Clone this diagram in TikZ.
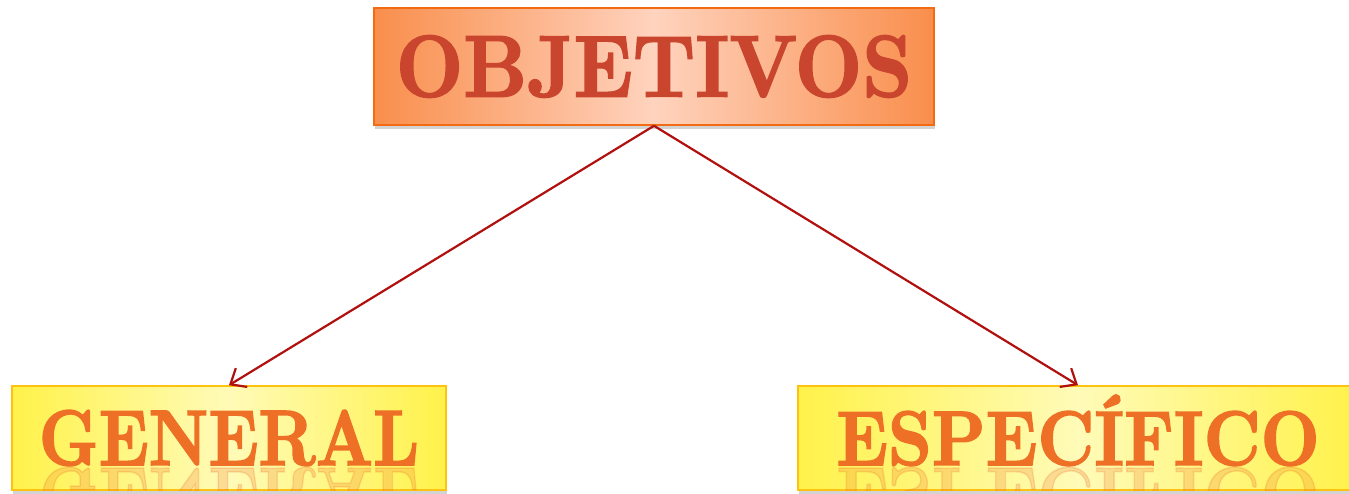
\documentclass[tikz,border=0pt]{standalone}
\usepackage{fontspec}
\usepackage{graphicx}
\usepackage{tikz}
\usetikzlibrary{shadows,arrows.meta}
\newfontfamily\headfont{lmroman10-bold.otf}[FakeBold=2]
\definecolor{peach}{HTML}{FFD3BE}
\definecolor{tangerine}{HTML}{F98E4C}
\definecolor{rust}{HTML}{F26A12}
\definecolor{brick}{HTML}{C9452E}
\definecolor{lemon}{HTML}{FFF24A}
\definecolor{cream}{HTML}{FFFBB8}
\definecolor{gold}{HTML}{FFC20E}
\definecolor{carrot}{HTML}{EE7027}
\definecolor{wine}{HTML}{B0100E}
\tikzset{
	titlebox/.style={draw=rust, line width=1.6pt, left color=tangerine, right color=tangerine, middle color=peach,
		inner sep=0pt, minimum width=560pt, minimum height=117pt, text=brick, text height=60pt, text depth=0pt,
		drop shadow={shadow xshift=1pt, shadow yshift=-4pt, opacity=.35}},
	leafbox/.style={draw=gold, line width=1.6pt, left color=lemon, right color=lemon, middle color=cream,
		inner sep=0pt, minimum height=104pt, text=carrot, text height=54pt, text depth=0pt,
		drop shadow={shadow xshift=1pt, shadow yshift=-4pt, opacity=.35}},
	mirror/.style={text=carrot, opacity=.22, inner sep=0pt, anchor=north},
	link/.style={draw=wine, line width=2.2pt, -{Straight Barb[length=13pt, width=22pt]}}
}
\begin{document}
\begin{tikzpicture}[x=1pt, y=-1pt]
				\useasboundingbox (0,0) rectangle (1349,493);
				% boxes
				\node[titlebox] (obj) at (654,66.5) {\scalebox{.893}[1]{\fontsize{87.5pt}{90pt}\headfont OBJETIVOS}};
				\node[leafbox, minimum width=434pt] (gen) at (229,438) {\scalebox{.842}[1]{\fontsize{78.7pt}{80pt}\headfont GENERAL}};
				\node[leafbox, minimum width=560pt] (esp) at (1078,438) {\scalebox{.886}[1]{\fontsize{77.3pt}{80pt}\headfont ESPECÍFICO}};
				% reflections
				\begin{scope}
					\clip (gen.south west) rectangle (gen.north east);
					\node[mirror] (genr) at (229,467) {\scalebox{.842}[-1]{\fontsize{78.7pt}{80pt}\headfont GENERAL}};
				\end{scope}
				\begin{scope}
					\clip (esp.south west) rectangle (esp.north east);
					\node[mirror] (espr) at (1078,467) {\scalebox{.886}[-1]{\fontsize{77.3pt}{80pt}\headfont ESPECIFICO}};
				\end{scope}
				% connectors
				\draw[link] (obj.south) -- (gen.north);
				\draw[link] (obj.south) -- (esp.north);
\end{tikzpicture}
\end{document}
